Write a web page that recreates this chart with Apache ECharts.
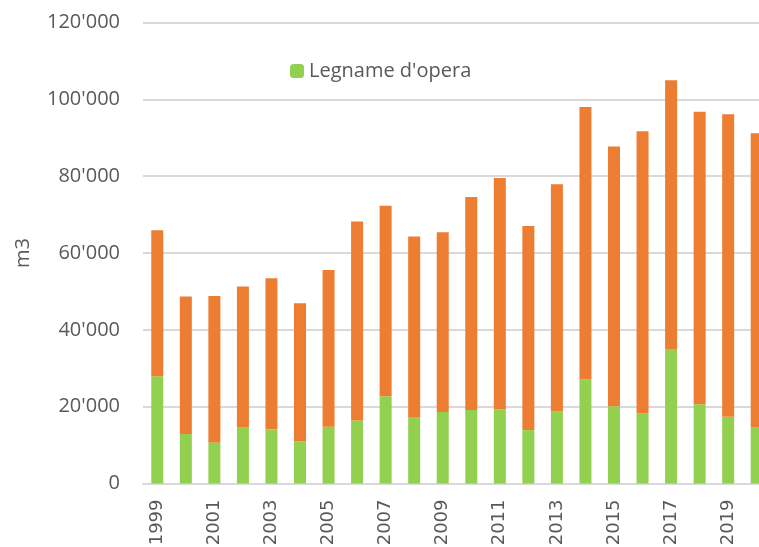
<!DOCTYPE html>
<html>
<head>
<meta charset="utf-8">
<script src="https://cdn.jsdelivr.net/npm/echarts@6/dist/echarts.min.js"></script>
<style>
  html, body { margin: 0; padding: 0; background: #fff; }
  #chart { width: 759px; height: 547px; }
</style>
</head>
<body>
<div id="chart"></div>
<script>
// anni
const years = ['1999', '2000', '2001', '2002', '2003', '2004', '2005', '2006', '2007', '2008', '2009',
  '2010', '2011', '2012', '2013', '2014', '2015', '2016', '2017', '2018', '2019', '2020'];
// legname d'opera (m3)
const legnameOpera = [27900, 12900, 10700, 14700, 14100, 11000, 14800, 16400, 22700, 17300, 18600,
  19100, 19300, 13900, 18750, 27100, 20100, 18200, 35000, 20600, 17400, 14600];
// resto del volume (m3)
const legnameAltro = [38000, 35800, 38100, 36600, 39300, 35900, 40800, 51800, 49600, 47000, 46800,
  55500, 60200, 53100, 59150, 70900, 67600, 73500, 70000, 76200, 78700, 76600];
const yTicks = [0, 20000, 40000, 60000, 80000, 100000, 120000];

const chart = echarts.init(document.getElementById('chart'));

// separatore migliaia con apostrofo
function fmt(v) {
  return String(v).replace(/\B(?=(\d{3})+(?!\d))/g, "'");
}

const option = {
  animation: false,
  grid: {
    left: 143,
    right: -12,
    top: 22.5,
    bottom: 63.5,
    outerBoundsMode: 'none'
  },
  legend: {
    data: ["Legname d'opera"],
    left: 285,
    top: 56,
    itemWidth: 14,
    itemHeight: 14,
    itemGap: 6,
    textStyle: {
      fontFamily: 'Open Sans',
      fontSize: 20,
      color: '#595959'
    }
  },
  xAxis: {
    type: 'category',
    data: years,
    axisLine: { lineStyle: { color: '#d9d9d9', width: 2 } },
    axisTick: { show: false },
    axisLabel: {
      interval: 1,
      rotate: 90,
      margin: 16,
      fontFamily: 'DejaVu Sans',
      fontSize: 18,
      color: '#595959'
    }
  },
  yAxis: {
    type: 'value',
    min: 0,
    max: 120000,
    interval: 20000,
    name: 'm3',
    nameLocation: 'middle',
    nameGap: 110,
    nameTextStyle: {
      fontFamily: 'Open Sans',
      fontSize: 20,
      color: '#595959'
    },
    axisLine: { show: false },
    axisTick: { show: false },
    splitLine: { lineStyle: { color: '#d9d9d9', width: 2 } },
    axisLabel: {
      margin: 23,
      fontFamily: 'Open Sans',
      fontSize: 20,
      color: '#595959',
      formatter: v => yTicks.includes(v) ? fmt(v) : ''
    }
  },
  series: [
    {
      name: "Legname d'opera",
      type: 'bar',
      stack: 'tot',
      barWidth: 12,
      data: legnameOpera,
      itemStyle: { color: '#92d050' }
    },
    {
      name: 'Altro legname',
      type: 'bar',
      stack: 'tot',
      barWidth: 12,
      data: legnameAltro,
      itemStyle: { color: '#ed7d31' }
    }
  ]
};

chart.setOption(option);
</script>
</body>
</html>
